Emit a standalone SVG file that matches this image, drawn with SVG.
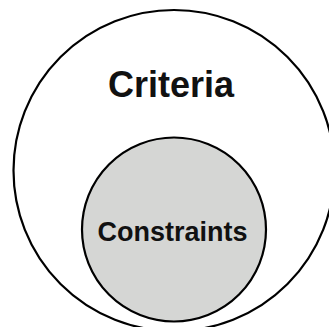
<svg xmlns="http://www.w3.org/2000/svg" width="329" height="327" viewBox="0 0 329 327">
<style>
.ring{stroke:#000;stroke-width:2.2}
.lbl{font-family:"Liberation Sans",Arial,sans-serif;font-weight:bold;fill:#111;text-anchor:middle}
</style>
<rect width="329" height="327" fill="#fff"/>
<g id="criteria">
<circle class="ring" cx="174" cy="170.5" r="160.5" fill="#fff"/>
<text class="lbl" x="171" y="97" font-size="36">Criteria</text>
</g>
<g id="constraints">
<circle class="ring" cx="174" cy="229.5" r="92" fill="#d5d6d4"/>
<text class="lbl" x="172.5" y="241" font-size="27">Constraints</text>
</g>
<g id="connectors"/>
</svg>
